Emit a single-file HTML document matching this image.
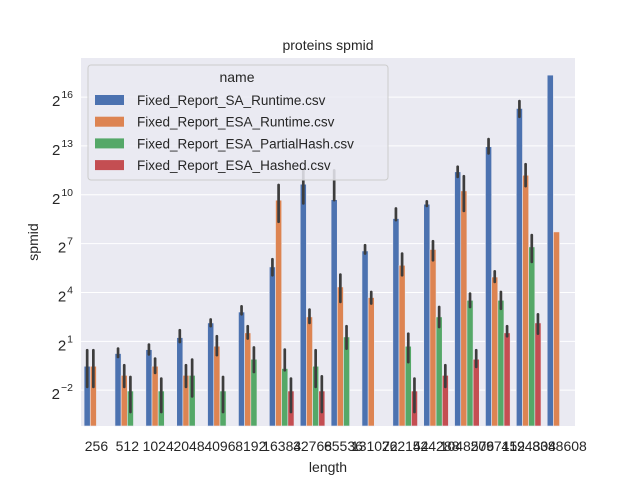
<!DOCTYPE html>
<html><head><meta charset="utf-8"><style>
html,body{margin:0;padding:0;background:#fff;}
svg{display:block;font-family:"Liberation Sans","DejaVu Sans",sans-serif;}
</style></head><body>
<svg id="chart" width="640" height="480" viewBox="0 0 640 480" xmlns="http://www.w3.org/2000/svg">
<rect x="81" y="58" width="494" height="368" fill="#eaeaf2"/>
<g id="grid"></g>
<g id="bars"></g>
<g id="yticks"></g>
<g id="xticks"></g>
<text x="328" y="50" font-size="14" text-anchor="middle" fill="#262626">proteins spmid</text>
<text x="328" y="472" font-size="14" text-anchor="middle" fill="#262626">length</text>
<text x="38" y="242" font-size="14" text-anchor="middle" fill="#262626" transform="rotate(-90 38 242)">spmid</text>
<g id="legend">
<rect x="88" y="65" width="300" height="115" rx="3" fill="#eaeaf2" fill-opacity="0.85" stroke="#cccccc"/>
<text x="237" y="82" font-size="14" text-anchor="middle" fill="#262626">name</text>
</g>
</svg>
<script>
const categories = ["256","512","1024","2048","4096","8192","16384","32768","65536","131072","262144","524288","1048576","2097152","4194304","8388608"];
const seriesNames = ["Fixed_Report_SA_Runtime.csv","Fixed_Report_ESA_Runtime.csv","Fixed_Report_ESA_PartialHash.csv","Fixed_Report_ESA_Hashed.csv"];
const colors = ["#4c72b0","#dd8452","#55a868","#c44e52"];
// values are log2(spmid)
const saRuntime = [-0.53,0.25,0.49,1.23,2.13,2.8,5.57,10.65,9.7,6.55,8.54,9.42,11.41,12.95,15.3,17.35];
const esaRuntime = [-0.53,-1.09,-0.53,-1.09,0.7,1.52,9.67,2.5,4.34,3.69,5.67,6.64,10.24,4.95,11.2,7.72];
const esaPartial = [null,-2.05,-2.05,-1.09,-2.05,-0.1,-0.67,-0.53,1.27,null,0.7,2.5,3.52,3.52,6.8,null];
const esaHashed = [null,null,null,null,null,null,-2.05,-2.05,null,null,-2.05,-1.09,-0.1,1.52,2.13,null];
const saErrHi = [0.45,0.55,0.8,1.68,2.34,3.15,6.04,11.5,11.5,6.9,9.16,9.6,11.72,13.42,15.75,null];
const saErrLo = [-1.8,0.04,0.2,0.96,1.93,2.66,5.06,9.47,9.67,6.39,8.44,9.32,11.1,12.54,14.79,null];
const esaErrHi = [0.45,-0.47,-0.06,-0.47,1.31,1.93,10.6,2.95,5.1,4.03,6.39,7.15,11.14,5.3,11.88,null];
const esaErrLo = [-1.8,-1.8,-0.94,-1.8,0.15,1.17,8.34,2.13,3.42,3.32,5.06,5.98,9.01,4.65,10.53,null];
const partErrHi = [null,-1.19,-1.29,-0.12,-1.19,0.62,0.49,0.45,1.93,null,1.47,3.11,3.93,4.03,7.52,null];
const partErrLo = [null,-3.34,-3.34,-2.38,-3.34,-0.88,-0.78,-1.8,0.55,null,-0.28,1.88,3.11,3.0,5.88,null];
const hashErrHi = [null,null,null,null,null,null,-1.29,-1.15,null,null,-1.29,-0.47,0.45,1.93,2.66,null];
const hashErrLo = [null,null,null,null,null,null,-3.34,-3.34,null,null,-3.34,-1.8,-0.57,1.31,1.47,null];
const yTickExps = [-2,1,4,7,10,13,16];

const series = [saRuntime, esaRuntime, esaPartial, esaHashed];
const errHi = [saErrHi, esaErrHi, partErrHi, hashErrHi];
const errLo = [saErrLo, esaErrLo, partErrLo, hashErrLo];
const NS = "http://www.w3.org/2000/svg";
const L=81, R=575, T=58, B=426;
const yMin=-4.2, yMax=18.4;
function y(e){ return B - (e - yMin)/(yMax - yMin)*(B - T); }
const band = (R-L)/categories.length;
function xc(i){ return L + band*(i+0.5); }
function mk(tag, attrs, parent){ const el=document.createElementNS(NS,tag); for(const k in attrs) el.setAttribute(k, attrs[k]); parent.appendChild(el); return el; }

const grid=document.getElementById('grid'), yt=document.getElementById('yticks');
yTickExps.forEach(e=>{
  const gl=mk('line',{x1:L,x2:R,y1:y(e),y2:y(e),stroke:'#fff','stroke-width':1},grid);
  
  
  const t=mk('text',{x:73,y:y(e)+9,'font-size':15,'text-anchor':'end',fill:'#262626'},yt);
  
  
  const b=mk('tspan',{},t);
  b.textContent='2';
  const s=mk('tspan',{'font-size':10.5,dy:-8,dx:1},t);
  s.textContent=(e<0?'\u2212':'')+Math.abs(e);
});

const bars=document.getElementById('bars');
const gw=band*0.8, bw=gw/4;
series.forEach((vals,si)=>{
  vals.forEach((v,i)=>{
    if(v===null) return;
    const x0=xc(i)-gw/2+si*bw;
    const r=mk('rect',{x:x0,y:y(v),width:bw,height:B-y(v),fill:colors[si],stroke:'#eaeaf2','stroke-width':0.6},bars);
    
    
    const hi=errHi[si][i], lo=errLo[si][i];
    if(hi!==null && lo!==null){
      const ln=mk('line',{x1:x0+bw/2,x2:x0+bw/2,y1:y(hi),y2:y(lo),stroke:'#3d3d3d','stroke-width':2.7,'stroke-linecap':'round'},bars);
      
      
    }
  });
});

const xt=document.getElementById('xticks');
categories.forEach((c,i)=>{
  const t=mk('text',{x:xc(i),y:451,'font-size':14,'text-anchor':'middle',fill:'#262626'},xt);
  
  
  t.textContent=c;
});

const lg=document.getElementById('legend');
seriesNames.forEach((n,i)=>{
  const yy=95+i*21.7;
  const p=mk('rect',{x:95,y:yy,width:29,height:10,fill:colors[i]},lg);
  
  
  const t=mk('text',{x:137,y:yy+10,'font-size':13.5,fill:'#262626'},lg);
  
  
  t.textContent=n;
});
</script>
</body></html>
